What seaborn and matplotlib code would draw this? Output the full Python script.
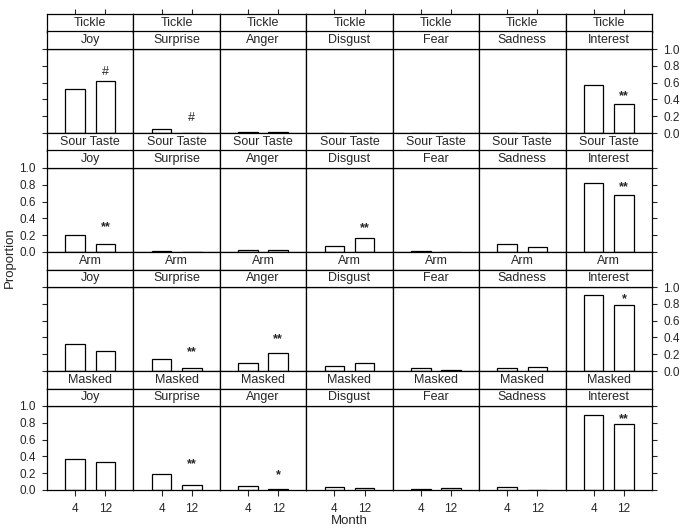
import numpy as np
import pandas as pd
import matplotlib
matplotlib.use('Agg')
import matplotlib.pyplot as plt
import seaborn as sns

sns.set_style('white')
plt.rcParams['font.family'] = ['Liberation Sans', 'DejaVu Sans']

# ------------------------------------------------------------------
# data (proportion of infants showing each emotion)
# ------------------------------------------------------------------
stimuli = ['Tickle', 'Sour Taste', 'Arm', 'Masked']
emotions = ['Joy', 'Surprise', 'Anger', 'Disgust', 'Fear', 'Sadness', 'Interest']
months = ['4', '12']

tickle_4 = [0.52, 0.05, 0.01, 0.005, 0.005, 0.005, 0.57]
tickle_12 = [0.62, 0.005, 0.01, 0.0, 0.005, 0.005, 0.34]
sour_4 = [0.20, 0.01, 0.02, 0.07, 0.015, 0.09, 0.82]
sour_12 = [0.10, 0.005, 0.02, 0.17, 0.005, 0.06, 0.68]
arm_4 = [0.32, 0.14, 0.09, 0.06, 0.03, 0.04, 0.90]
arm_12 = [0.24, 0.03, 0.22, 0.09, 0.015, 0.05, 0.79]
masked_4 = [0.37, 0.19, 0.05, 0.04, 0.015, 0.03, 0.89]
masked_12 = [0.33, 0.06, 0.01, 0.02, 0.025, 0.005, 0.78]

# significance marks over the 12-month bar
sig_stim = ['Tickle', 'Tickle', 'Tickle', 'Sour Taste', 'Sour Taste', 'Sour Taste',
            'Arm', 'Arm', 'Arm', 'Masked', 'Masked', 'Masked']
sig_emo = ['Joy', 'Surprise', 'Interest', 'Joy', 'Disgust', 'Interest',
           'Surprise', 'Anger', 'Interest', 'Surprise', 'Anger', 'Interest']
sig_mark = ['#', '#', '**', '**', '**', '**', '**', '**', '*', '**', '*', '**']
sig_height = [0.73, 0.18, 0.46, 0.32, 0.30, 0.79, 0.25, 0.40, 0.88, 0.33, 0.20, 0.86]

values = {'Tickle': (tickle_4, tickle_12), 'Sour Taste': (sour_4, sour_12),
          'Arm': (arm_4, arm_12), 'Masked': (masked_4, masked_12)}

rows = []
for s in stimuli:
    for m, vals in zip(months, values[s]):
        for e, v in zip(emotions, vals):
            rows.append({'stimulus': s, 'emotion': e, 'month': m, 'prop': v})
df = pd.DataFrame(rows)

# ------------------------------------------------------------------
# lattice-style layout (pixel geometry of the 687x532 figure)
# ------------------------------------------------------------------
W, H = 687, 532
fig = plt.figure(figsize=(W / 100, H / 100), dpi=100)

left, right = 47, 652
col_w = (right - left) / len(emotions)
top0, pitch, strip_h, panel_h = 14, 119, 17.5, 84
XLIM = (-0.93, 1.93)
FS = 9


def box(x, y_top, w, h):
    return [x / W, 1 - (y_top + h) / H, w / W, h / H]


def strip(x, y_top, label, top_ticks=False):
    sax = fig.add_axes(box(x, y_top, col_w, strip_h))
    sax.set_xlim(XLIM)
    sax.set_ylim(0, 1)
    sax.set_yticks([])
    if top_ticks:
        sax.set_xticks([0, 1])
        sax.tick_params(axis='x', bottom=False, labelbottom=False, top=True,
                        labeltop=False, direction='out', length=3.5, width=0.8)
    else:
        sax.set_xticks([])
    for sp in sax.spines.values():
        sp.set_color('black')
        sp.set_linewidth(0.9)
    sax.text(0.5, 0.5, label, transform=sax.transAxes, ha='center', va='center',
             fontsize=FS)
    return sax


for r, stim in enumerate(stimuli):
    y_row = top0 + pitch * r
    for c, emo in enumerate(emotions):
        x = left + col_w * c
        ax = fig.add_axes(box(x, y_row + 2 * strip_h, col_w, panel_h))
        sub = df[(df['stimulus'] == stim) & (df['emotion'] == emo)]
        sns.barplot(data=sub, x='month', y='prop', order=months, color='white',
                    edgecolor='black', linewidth=0.9, width=0.65, errorbar=None,
                    saturation=1, ax=ax)
        ax.set_xlim(XLIM)
        ax.set_ylim(0, 1.0)
        ax.set_xlabel('')
        ax.set_ylabel('')
        ax.set_yticks(np.arange(0, 1.01, 0.2))
        ax.set_yticklabels([f'{t:.1f}' for t in np.arange(0, 1.01, 0.2)])
        for sp in ax.spines.values():
            sp.set_visible(True)
            sp.set_color('black')
            sp.set_linewidth(0.9)

        ax.tick_params(axis='y', left=(c == 0), labelleft=(c == 0 and r % 2 == 1),
                       right=(c == len(emotions) - 1),
                       labelright=(c == len(emotions) - 1 and r % 2 == 0),
                       direction='out', length=3.6, width=0.8, pad=4.5, labelsize=8.5)
        if r == len(stimuli) - 1:
            ax.tick_params(axis='x', bottom=True, labelbottom=True, direction='out',
                           length=4.2, width=0.8, pad=5, labelsize=8.5)
        else:
            ax.tick_params(axis='x', bottom=False, labelbottom=False)

        for s2, e2, mk, hgt in zip(sig_stim, sig_emo, sig_mark, sig_height):
            if s2 == stim and e2 == emo:
                yy = hgt - 0.02 if '*' in mk else hgt
                ax.text(1, yy, mk, ha='center', va='center', fontsize=9,
                        fontweight='bold' if '*' in mk else 'normal')

        strip(x, y_row, stim, top_ticks=(r == 0))
        strip(x, y_row + strip_h, emo)

fig.text(10 / W, 1 - 258 / H, 'Proportion', rotation=90, ha='center', va='center',
         fontsize=9.5)
fig.text((left + right) / 2 / W, 1 - 521 / H, 'Month', ha='center', va='center',
         fontsize=9.5)

fig.savefig('out.png', dpi=100, facecolor='white')
